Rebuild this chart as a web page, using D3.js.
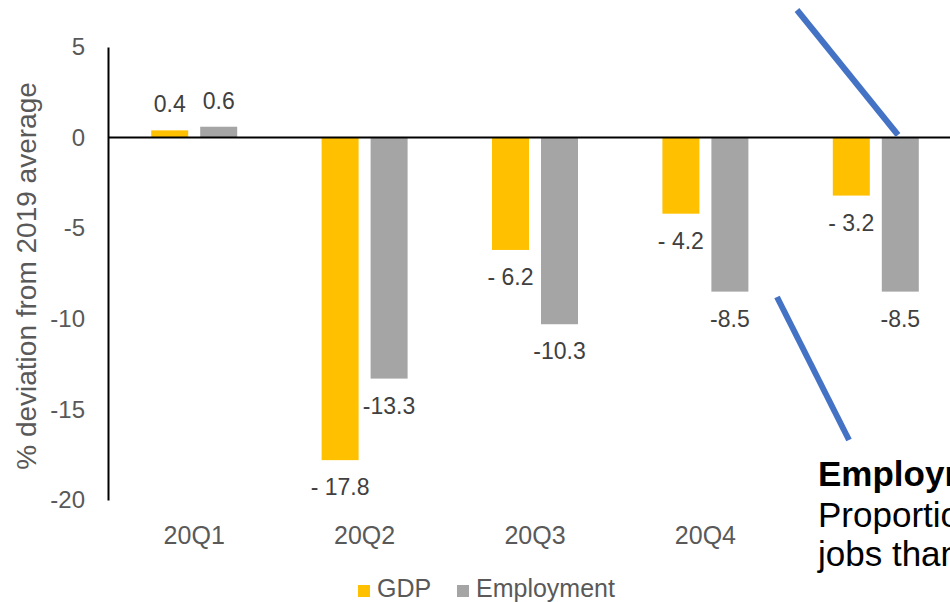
<!DOCTYPE html>
<html>
<head>
<meta charset="utf-8">
<script src="https://cdn.jsdelivr.net/npm/d3@7"></script>
<style>
  html, body { margin: 0; padding: 0; background: #fff; }
  svg { display: block; font-family: "Liberation Sans", Arial, Helvetica, sans-serif; }
</style>
</head>
<body>
<svg id="chart" width="950" height="602"></svg>
<script>
// Quarterly deviation from the 2019 average, %
const quarters = ["20Q1", "20Q2", "20Q3", "20Q4", "21Q1"];
const gdpValues = [0.4, -17.8, -6.2, -4.2, -3.2];
const employmentValues = [0.6, -13.3, -10.3, -8.5, -8.5];
const yTickValues = [5, 0, -5, -10, -15, -20];
const seriesNames = ["GDP", "Employment"];
const seriesColors = ["#FFC000", "#A5A5A5"];

const svg = d3.select("#chart");

const y = d3.scaleLinear().domain([-20, 5]).range([500, 47]);
const x0 = d3.scaleBand().domain(quarters).range([109, 961]);
const bw = x0.bandwidth();
const x1 = d3.scaleBand().domain(seriesNames)
  .range([bw / 2 - 43, bw / 2 + 43]).paddingInner(12 / 49);
const color = d3.scaleOrdinal().domain(seriesNames).range(seriesColors);

const rows = quarters.map((q, i) => ({
  q,
  vals: [
    { s: "GDP", v: gdpValues[i] },
    { s: "Employment", v: employmentValues[i] }
  ]
}));

// value label text: GDP negatives carry a space after the minus sign
function labelText(d) {
  const t = d3.format(".1f")(Math.abs(d.v));
  if (d.v >= 0) return t;
  return d.s === "GDP" ? "- " + t : "-" + t;
}

// bars
const groups = svg.append("g").selectAll("g").data(rows).join("g")
  .attr("transform", d => `translate(${x0(d.q)},0)`);

groups.selectAll("rect").data(d => d.vals).join("rect")
  .attr("x", d => x1(d.s))
  .attr("width", x1.bandwidth())
  .attr("y", d => y(Math.max(0, d.v)))
  .attr("height", d => Math.abs(y(d.v) - y(0)))
  .attr("fill", d => color(d.s));

groups.selectAll("text").data(d => d.vals).join("text")
  .attr("x", d => x1(d.s) + x1.bandwidth() / 2)
  .attr("y", d => d.v >= 0 ? y(d.v) - 18 : y(d.v) + 35)
  .attr("text-anchor", "middle")
  .attr("font-size", 23)
  .attr("fill", "#404040")
  .text(labelText);

// y axis
const yAxis = d3.axisLeft(y).tickValues(yTickValues).tickSize(0).tickPadding(23)
  .tickFormat(d => String(d));
const yg = svg.append("g").attr("transform", "translate(108,0)").call(yAxis);
yg.select(".domain").attr("stroke", "#000").attr("stroke-width", 2);
yg.selectAll("text").attr("font-size", 24).attr("fill", "#595959")
  .attr("font-family", "Liberation Sans, Arial, sans-serif");

// zero baseline
svg.append("line")
  .attr("x1", 108).attr("x2", 950)
  .attr("y1", y(0)).attr("y2", y(0))
  .attr("stroke", "#000").attr("stroke-width", 2);

// category labels (the last one sits under the callout text)
const xAxis = d3.axisBottom(x0).tickSize(0).tickValues(quarters.slice(0, 4));
const xg = svg.append("g").call(xAxis);
xg.select(".domain").remove();
xg.selectAll("text").attr("y", 544).attr("dy", null)
  .attr("font-size", 25).attr("fill", "#595959")
  .attr("font-family", "Liberation Sans, Arial, sans-serif");

// axis title
svg.append("text")
  .attr("transform", "translate(36,276) rotate(-90)")
  .attr("text-anchor", "middle")
  .attr("font-size", 28)
  .attr("fill", "#595959")
  .text("% deviation from 2019 average");

// legend
const legend = svg.append("g").attr("transform", "translate(358,585)");
const legendOffsets = [0, 99];
seriesNames.forEach((s, i) => {
  const g = legend.append("g").attr("transform", `translate(${legendOffsets[i]},0)`);
  g.append("rect").attr("width", 12).attr("height", 12).attr("fill", color(s));
  g.append("text").attr("x", 19).attr("y", 12).attr("font-size", 25)
    .attr("fill", "#595959").text(s);
});

// callout lines
svg.append("line")
  .attr("x1", 797).attr("y1", 10).attr("x2", 898).attr("y2", 135)
  .attr("stroke", "#4472C4").attr("stroke-width", 6);
svg.append("line")
  .attr("x1", 777).attr("y1", 297).attr("x2", 849).attr("y2", 440)
  .attr("stroke", "#4472C4").attr("stroke-width", 6);

// callout text
const note = svg.append("g");
note.append("text").attr("x", 818).attr("y", 486).attr("font-size", 35)
  .attr("font-weight", "bold").attr("fill", "#000").text("Employment");
note.append("text").attr("x", 818).attr("y", 527).attr("font-size", 35)
  .attr("fill", "#000").text("Proportion");
note.append("text").attr("x", 818).attr("y", 566).attr("font-size", 35)
  .attr("fill", "#000").text("jobs than");
</script>
</body>
</html>
